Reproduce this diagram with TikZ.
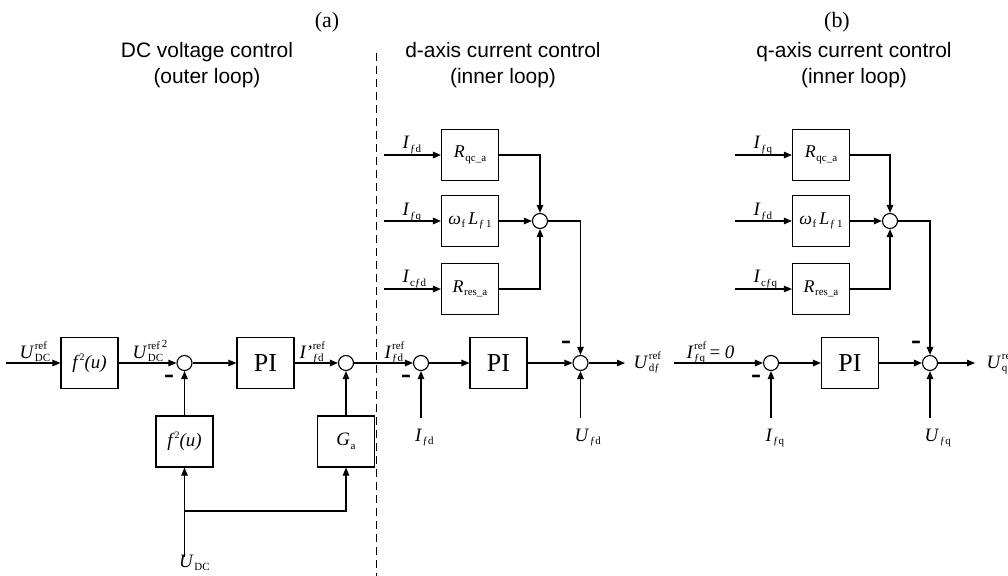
\documentclass[tikz,border=0pt]{standalone}
\usepackage{amsmath}
\usepackage{fontspec}
\setmainfont{Liberation Serif}
\setsansfont{Liberation Sans}
\usetikzlibrary{arrows.meta}
\newsavebox\subbox
\newsavebox\supbox
\newcommand\sg[3]{\textit{#1}\kern0.6bp%
 \sbox\subbox{\fontsize{11}{11}\selectfont #2}%
 \sbox\supbox{\fontsize{11}{11}\selectfont #3}%
 \rlap{\raisebox{-3.5bp}{\usebox\subbox}}%
 \rlap{\raisebox{8.5bp}{\usebox\supbox}}%
 \ifdim\wd\subbox>\wd\supbox\kern\wd\subbox\else\kern\wd\supbox\fi}
\newcommand\fsq{\textit{f}\raisebox{8bp}{\fontsize{10}{10}\selectfont 2}\textit{(u)}}
\begin{document}
\begin{tikzpicture}[x=1bp,y=-1bp, line width=1.1bp,
  blk/.style={draw, minimum width=57bp, minimum height=51bp, inner sep=0, font=\fontsize{19}{22}\selectfont},
  pibox/.style={blk, font=\fontsize{26}{30}\selectfont},
  sumc/.style={draw, circle, minimum size=15bp, inner sep=0},
  lab/.style={inner sep=0, anchor=base west, font=\fontsize{19}{20}\selectfont},
  arr/.style={-{Triangle[length=8bp,width=6.5bp]}},
  neg/.style={inner sep=0, font=\fontsize{30}{30}\selectfont\bfseries},
  ttl/.style={font=\sffamily\fontsize{21}{26}\selectfont, align=center, inner sep=0},
  hd/.style={font=\fontsize{22}{24}\selectfont, inner sep=0}]
\useasboundingbox (0,0) rectangle (1008,576);
% headings
\node[hd] (ha) at (327,22) {(a)};
\node[hd] (hb) at (837,22) {(b)};
\node[ttl] (t1) at (207,65) {DC voltage control\\(outer loop)};
\node[ttl] (t2) at (503,65) {d-axis current control\\(inner loop)};
\node[ttl] (t3) at (854,65) {q-axis current control\\(inner loop)};
\coordinate (dtop) at (376,53);
\coordinate (dbot) at (376,576);
\draw[line width=0.8bp, dash pattern=on 8bp off 5bp] (dtop) -- (dbot);

% ---------- DC voltage control ----------
\coordinate (in1) at (6,363);
\node[blk] (fa) at (89.5,363) {\fsq};
\node[sumc] (s1) at (184.5,363) {};
\node[pibox] (pia) at (265.5,363) {PI};
\node[sumc] (s2) at (346,363) {};
\node[blk] (fb) at (184.5,441.5) {\fsq};
\node[blk] (ga) at (346,441.5) {\sg{G}{a}{}};
\coordinate (udc0) at (184.5,557);
\coordinate (br) at (184.5,511);
\node[lab] (l1) at (19,358) {\sg{U}{DC}{ref}};
\node[lab] (l2) at (132,358) {\sg{U}{DC}{ref\,\raisebox{2.5bp}{2}}};
\node[lab] (l3) at (299,358) {\sg{I’}{ƒd}{ref}};
\node[lab] (l4) at (178.5,567) {\sg{U}{DC}{}};
\node[neg] (m1) at (169,379) {-};
\draw[arr] (in1) -- (fa);
\draw[arr] (fa) -- (s1);
\draw[arr] (s1) -- (pia);
\draw[arr] (pia) -- (s2);
\draw[arr] (fb) -- (s1);
\draw[arr] (ga) -- (s2);
\draw[arr] (udc0) -- (fb);
\draw[arr] (br) -| (ga);

% ---------- d-axis ----------
\node[sumc] (s3) at (421,363) {};
\node[pibox] (pid) at (498.5,363) {PI};
\node[sumc] (s5) at (580.5,363) {};
\coordinate (outd) at (625,363);
\coordinate (ifdb) at (421,418);
\coordinate (ufdb) at (580.5,418);
\node[blk, font=\fontsize{18}{20}\selectfont] (ra) at (470,155) {\sg{R}{qc\_a}{}};
\node[blk, font=\fontsize{18}{20}\selectfont] (wl) at (470,221) {\sg{ω}{f}{}\,\sg{L}{ƒ\,1}{}};
\node[blk, font=\fontsize{18}{20}\selectfont] (rr) at (470,289) {\sg{R}{res\_a}{}};
\node[sumc] (s4) at (540,221) {};
\coordinate (ia) at (384,155);
\coordinate (ib) at (384,221);
\coordinate (ic) at (384,289);
\node[lab] (l5) at (384,358) {\sg{I}{ƒd}{ref}};
\node[lab] (l6) at (633,368) {\sg{U}{dƒ}{ref}};
\node[lab] (l7) at (414.5,441) {\sg{I}{ƒd}{}};
\node[lab] (l8) at (574,441) {\sg{U}{ƒd}{}};
\node[lab] (l9) at (402,149) {\sg{I}{ƒd}{}};
\node[lab] (l10) at (402,216) {\sg{I}{ƒq}{}};
\node[lab] (l11) at (402,283) {\sg{I}{cƒd}{}};
\node[neg] (m2) at (406,379) {-};
\node[neg] (m3) at (566,345) {-};
\draw[arr] (s2) -- (s3);
\draw[arr] (s3) -- (pid);
\draw[arr] (pid) -- (s5);
\draw[arr] (s5) -- (outd);
\draw[arr] (ifdb) -- (s3);
\draw[arr] (ufdb) -- (s5);
\draw[arr] (ia) -- (ra);
\draw[arr] (ib) -- (wl);
\draw[arr] (ic) -- (rr);
\draw[arr] (ra) -| (s4);
\draw[arr] (wl) -- (s4);
\draw[arr] (rr) -| (s4);
\draw[arr] (s4) -| (s5);

% ---------- q-axis ----------
\coordinate (in6) at (674,363);
\node[sumc] (s6) at (771,363) {};
\node[pibox] (piq) at (850,363) {PI};
\node[sumc] (s7) at (930,363) {};
\coordinate (outq) at (975,363);
\coordinate (ifqb) at (771,418);
\coordinate (ufqb) at (930,418);
\node[blk, font=\fontsize{18}{20}\selectfont] (rqa) at (821,155) {\sg{R}{qc\_a}{}};
\node[blk, font=\fontsize{18}{20}\selectfont] (wlq) at (821,221) {\sg{ω}{f}{}\,\sg{L}{ƒ\,1}{}};
\node[blk, font=\fontsize{18}{20}\selectfont] (rrq) at (821,289) {\sg{R}{res\_a}{}};
\node[sumc] (s8) at (890,221) {};
\coordinate (ja) at (735,155);
\coordinate (jb) at (735,221);
\coordinate (jc) at (735,289);
\node[lab] (k5) at (686,358) {\sg{I}{ƒq}{ref}\,= \textit{0}};
\node[lab] (k6) at (986,368) {\sg{U}{qƒ}{ref}};
\node[lab] (k7) at (765,441) {\sg{I}{ƒq}{}};
\node[lab] (k8) at (924,441) {\sg{U}{ƒq}{}};
\node[lab] (k9) at (753,149) {\sg{I}{ƒq}{}};
\node[lab] (k10) at (753,216) {\sg{I}{ƒd}{}};
\node[lab] (k11) at (753,283) {\sg{I}{cƒq}{}};
\node[neg] (m4) at (756,379) {-};
\node[neg] (m5) at (916,345) {-};
\draw[arr] (in6) -- (s6);
\draw[arr] (s6) -- (piq);
\draw[arr] (piq) -- (s7);
\draw[arr] (s7) -- (outq);
\draw[arr] (ifqb) -- (s6);
\draw[arr] (ufqb) -- (s7);
\draw[arr] (ja) -- (rqa);
\draw[arr] (jb) -- (wlq);
\draw[arr] (jc) -- (rrq);
\draw[arr] (rqa) -| (s8);
\draw[arr] (wlq) -- (s8);
\draw[arr] (rrq) -| (s8);
\draw[arr] (s8) -| (s7);
\end{tikzpicture}
\end{document}
